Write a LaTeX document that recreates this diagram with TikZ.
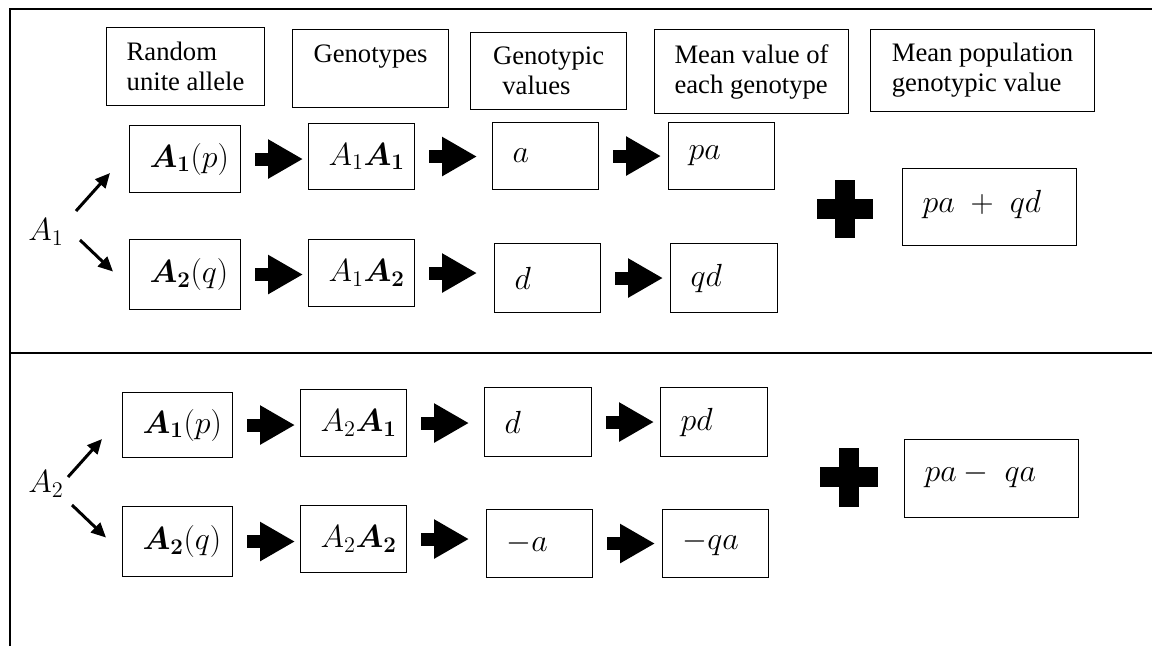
\RequirePackage{fix-cm}
\documentclass[tikz,border=0pt]{standalone}
\usepackage{amsmath}
\usepackage{bm}
\usepackage{fontspec}
\setmainfont{Liberation Serif}
\usetikzlibrary{arrows.meta}

\tikzset{
  frm/.style={draw, line width=0.8pt, anchor=north west, inner ysep=0pt,
    minimum height=#1*0.75pt},
  bx/.style 2 args={frm={#2}, align=left, inner xsep=15pt,
    /utils/exec={\pgfmathsetlengthmacro\bxw{#1*0.75pt-30pt}},
    text width=\bxw, font=\fontsize{24}{28}\selectfont},
  sumbx/.style 2 args={bx={#1}{#2}, execute at end node=\rule[-9pt]{0pt}{0pt}},
  hd/.style 2 args={frm={#2}, align=left, inner xsep=0pt,
    minimum width=#1*0.75pt, font=\fontsize{20}{22.5}\selectfont,
    execute at begin node=\rule{0pt}{19pt}},
  blk/.style={line width=9.75pt, -{Triangle[length=26.25pt,width=27.75pt]},
    shorten <=10.5pt},
  dg/.style={line width=2.25pt, -{Triangle[length=11pt,width=10pt]}},
  lbl/.style={font=\fontsize{24}{28}\selectfont, inner sep=0pt},
}

\begin{document}
\begin{tikzpicture}[x=0.75pt,y=-0.75pt]

  \useasboundingbox (0,0) rectangle (1152,646);

  % frame
  \draw[line width=0.8pt] (10,646) -- (10,9) -- (1152,9);
  \draw[line width=0.8pt] (10,353) -- (1152,353);

  % column heads
  \node[hd={158}{78}] (hRand) at (106,27) {Random\\unite allele};
  \node[hd={156}{78}] (hGeno) at (292,29) {Genotypes\\\mbox{}};
  \node[hd={156}{77}] (hGval) at (470,32) {Genotypic\\\hspace*{7pt}values};
  \node[hd={194}{84}] (hMean) at (654,29) {Mean value of\\each genotype};
  \node[hd={224}{82}] (hPop) at (870,29) {Mean population\\genotypic value};

  % allele A1
  \node[lbl] (lblA) at (46,232) {$A_1$};

  \node[bx={111}{67}] (r1a) at (129,125) {$\bm{A}_{\bm 1}(p)$};
  \node[bx={106}{66}] (r1b) at (308,123) {$A_1\bm{A}_{\bm 1}$};
  \node[bx={106}{67}] (r1c) at (492,122) {$a$};
  \node[bx={106}{67}] (r1d) at (668,122) {$pa$};

  \node[bx={111}{70}] (r2a) at (129,239) {$\bm{A}_{\bm 2}(q)$};
  \node[bx={106}{67}] (r2b) at (308,239) {$A_1\bm{A}_{\bm 2}$};
  \node[bx={106}{69}] (r2c) at (494,243) {$d$};
  \node[bx={107}{69}] (r2d) at (670,243) {$qd$};

  \node[sumbx={174}{77}] (sumA) at (902,168) {$pa\;+\;qd$};

  \draw[dg] ([shift={(30,-21)}]lblA.center) -- ([shift={(-19,14)}]r1a.west);
  \draw[dg] ([shift={(34,8)}]lblA.center) -- ([shift={(-16,-3)}]r2a.west);

  \draw[blk, shorten >=3.75pt] (r1a.east) -- (r1a.east -| r1b.west);
  \draw[blk, shorten >=11.25pt] (r1b.east) -- (r1b.east -| r1c.west);
  \draw[blk, shorten >=5.25pt] (r1c.east) -- (r1c.east -| r1d.west);

  \draw[blk, shorten >=3.75pt] (r2a.east) -- (r2a.east -| r2b.west);
  \draw[blk, shorten >=12.75pt] (r2b.east) -- (r2b.east -| r2c.west);
  \draw[blk, shorten >=5.25pt] (r2c.east) -- (r2c.east -| r2d.west);

  \fill (817,199) rectangle (873,219);
  \fill (835,180) rectangle (855,238);

  % allele A2
  \node[lbl] (lblB) at (46,484) {$A_2$};

  \node[bx={110}{65}] (r3a) at (122,392) {$\bm{A}_{\bm 1}(p)$};
  \node[bx={106}{67}] (r3b) at (300,389) {$A_2\bm{A}_{\bm 1}$};
  \node[bx={107}{69}] (r3c) at (484,387) {$d$};
  \node[bx={107}{69}] (r3d) at (660,387) {$pd$};

  \node[bx={110}{70}] (r4a) at (122,506) {$\bm{A}_{\bm 2}(q)$};
  \node[bx={106}{67}] (r4b) at (300,505) {$A_2\bm{A}_{\bm 2}$};
  \node[bx={106}{68}] (r4c) at (486,509) {$-a$};
  \node[bx={106}{68}] (r4d) at (662,509) {$-qa$};

  \node[sumbx={174}{78}] (sumB) at (904,439) {$pa-\;qa$};

  \draw[dg] ([shift={(22,-7)}]lblB.center) -- ([shift={(-20,14)}]r3a.west);
  \draw[dg] ([shift={(26,21)}]lblB.center) -- ([shift={(-16,-4)}]r4a.west);

  \draw[blk, shorten >=3.75pt] (r3a.east) -- (r3a.east -| r3b.west);
  \draw[blk, shorten >=11.25pt] (r3b.east) -- (r3b.east -| r3c.west);
  \draw[blk, shorten >=4.5pt] (r3c.east) -- (r3c.east -| r3d.west);

  \draw[blk, shorten >=3.75pt] (r4a.east) -- (r4a.east -| r4b.west);
  \draw[blk, shorten >=12.75pt] (r4b.east) -- (r4b.east -| r4c.west);
  \draw[blk, shorten >=5.25pt] (r4c.east) -- (r4c.east -| r4d.west);

  \fill (820,467) rectangle (878,487);
  \fill (839,448) rectangle (859,507);

\end{tikzpicture}
\end{document}
